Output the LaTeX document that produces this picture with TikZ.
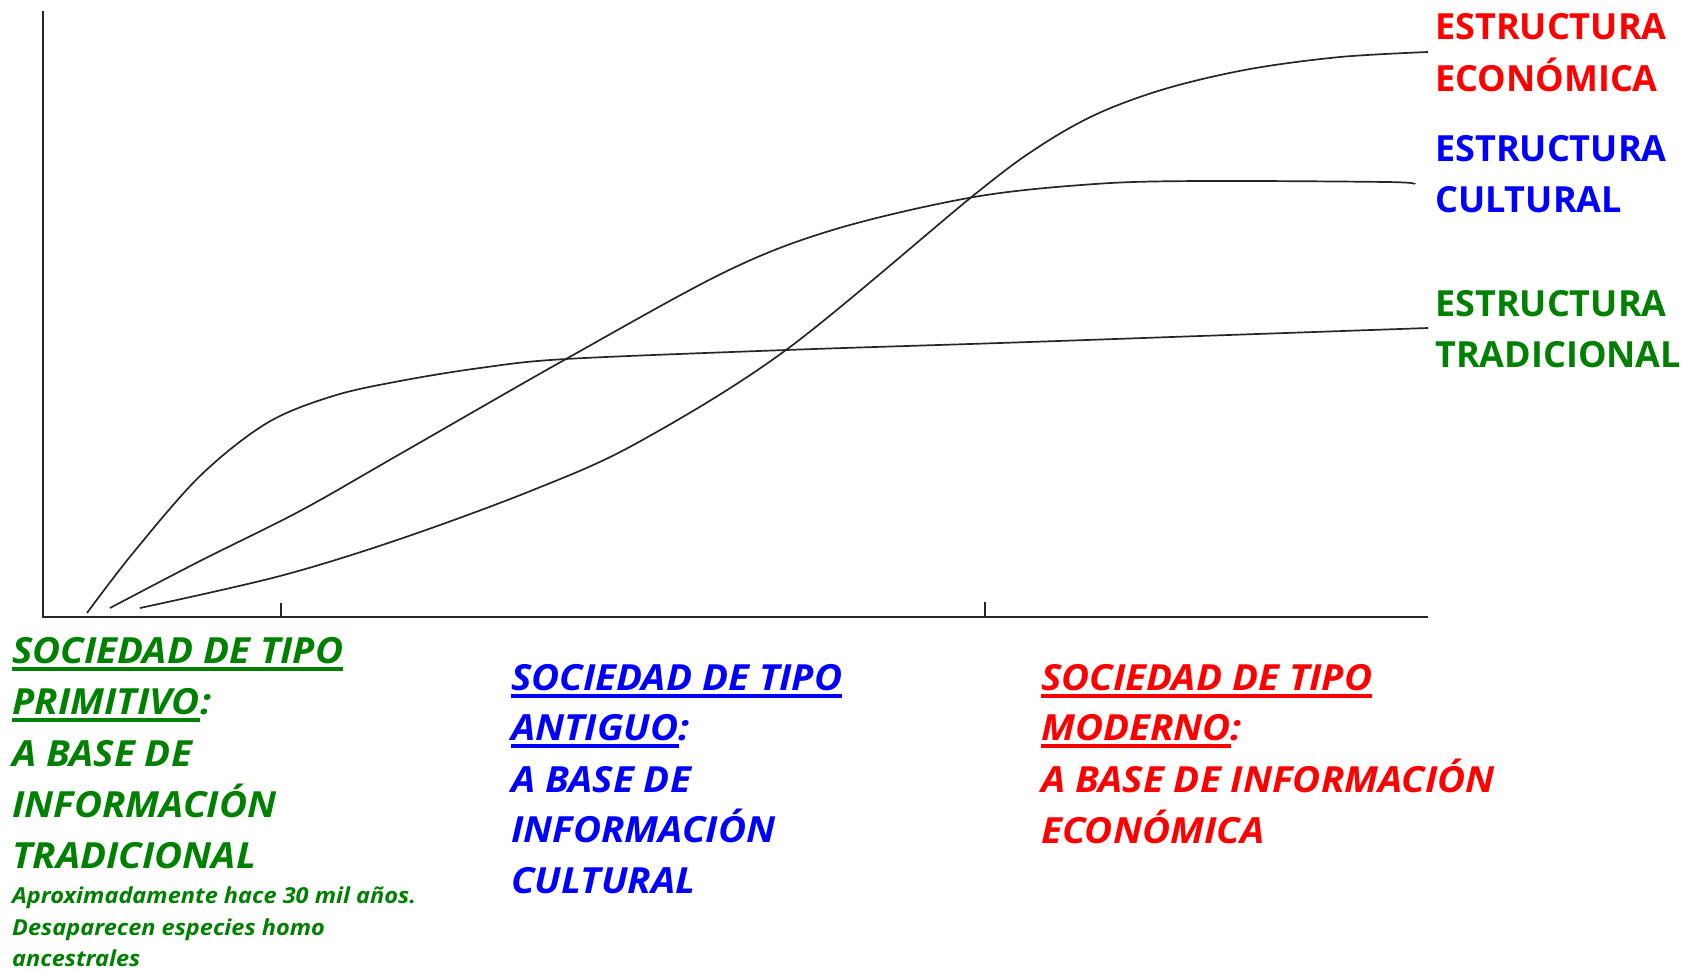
\documentclass[tikz,border=0pt]{standalone}
\usepackage{fontspec}
\setmainfont{Open Sans}
\newfontfamily\itfam[FakeStretch=1.07]{Open Sans}
\definecolor{cgreen}{RGB}{0,128,0}
\definecolor{cblue}{RGB}{0,0,255}
\definecolor{cred}{RGB}{255,0,0}
\newcommand\myul[1]{\setbox0\hbox{#1}\rlap{\vrule height -4pt depth 7.5pt width \wd0}\box0}
\tikzset{
  lab/.style={anchor=base west, inner sep=0pt, font=\fontsize{36}{51}\selectfont\bfseries},
  soc/.style={anchor=base west, inner sep=0pt, font=\itfam\fontsize{36}{51}\selectfont\bfseries\itshape},
  small/.style={anchor=base west, inner sep=0pt, font=\itfam\fontsize{22}{32}\selectfont\bfseries\itshape},
  axis/.style={line width=2.6pt, black!85},
  curve/.style={line width=1.7pt, black!85, smooth, tension=0.55}
}
\begin{document}
\begin{tikzpicture}[x=1pt,y=-1pt]
\useasboundingbox (0,0) rectangle (1694,969);
% axes
\coordinate (top) at (43,11);
\coordinate (orig) at (43,617);
\coordinate (xend) at (1428,617);
\draw[axis] (top) -- (orig) -- (xend);
\coordinate (t1) at (281,617);
\coordinate (t1b) at (281,603);
\coordinate (t2) at (985,617);
\coordinate (t2b) at (985,602);
\draw[axis] (t1) -- (t1b);
\draw[axis] (t2) -- (t2b);
% traditional
\draw[curve] plot coordinates {(87,613) (133,553) (200,476) (267,423) (333,396) (400,381) (480,368) (566,359) (786,350) (1000,343) (1200,336) (1428,328)};
% cultural
\draw[curve] plot coordinates {(110,608) (200,561) (300,511) (400,454) (566,359) (727,271) (836,229) (974,197) (1095,184) (1200,181) (1386,182) (1414,184)};
% economic
\draw[curve] plot coordinates {(140,608) (280,576) (400,539) (533,490) (637,443) (786,350) (974,195) (1040,146) (1099,113) (1168,88) (1250,69) (1340,57) (1428,52)};
% right labels
\node[lab, text=cred] (e1) at (1435,39) {ESTRUCTURA};
\node[lab, text=cred] (e2) at (1435,91) {ECONÓMICA};
\node[lab, text=cblue] (c1) at (1435,161) {ESTRUCTURA};
\node[lab, text=cblue] (c2) at (1435,212) {CULTURAL};
\node[lab, text=cgreen] (g1) at (1435,316) {ESTRUCTURA};
\node[lab, text=cgreen] (g2) at (1435,367) {TRADICIONAL};
% green block
\node[soc, text=cgreen] (pa) at (12,663) {\myul{SOCIEDAD DE TIPO}};
\node[soc, text=cgreen] (pb) at (12,714) {\myul{PRIMITIVO}:};
\node[soc, text=cgreen] (pc) at (12,766) {A BASE DE};
\node[soc, text=cgreen] (pd) at (12,817) {INFORMACIÓN};
\node[soc, text=cgreen] (pe) at (12,868) {TRADICIONAL};
\node[small, text=cgreen] (pf) at (12,903) {Aproximadamente hace 30 mil años.};
\node[small, text=cgreen] (pg) at (12,935) {Desaparecen especies homo};
\node[small, text=cgreen] (ph) at (12,966) {ancestrales};
% blue block
\node[soc, text=cblue] (aa) at (511,690) {\myul{SOCIEDAD DE TIPO}};
\node[soc, text=cblue] (ab) at (511,740) {\myul{ANTIGUO}:};
\node[soc, text=cblue] (ac) at (511,792) {A BASE DE};
\node[soc, text=cblue] (ad) at (511,842) {INFORMACIÓN};
\node[soc, text=cblue] (ae) at (511,893) {CULTURAL};
% red block
\node[soc, text=cred] (ma) at (1041,690) {\myul{SOCIEDAD DE TIPO}};
\node[soc, text=cred] (mb) at (1041,740) {\myul{MODERNO}:};
\node[soc, text=cred] (mc) at (1041,792) {A BASE DE INFORMACIÓN};
\node[soc, text=cred] (md) at (1041,843) {ECONÓMICA};
\end{tikzpicture}
\end{document}
